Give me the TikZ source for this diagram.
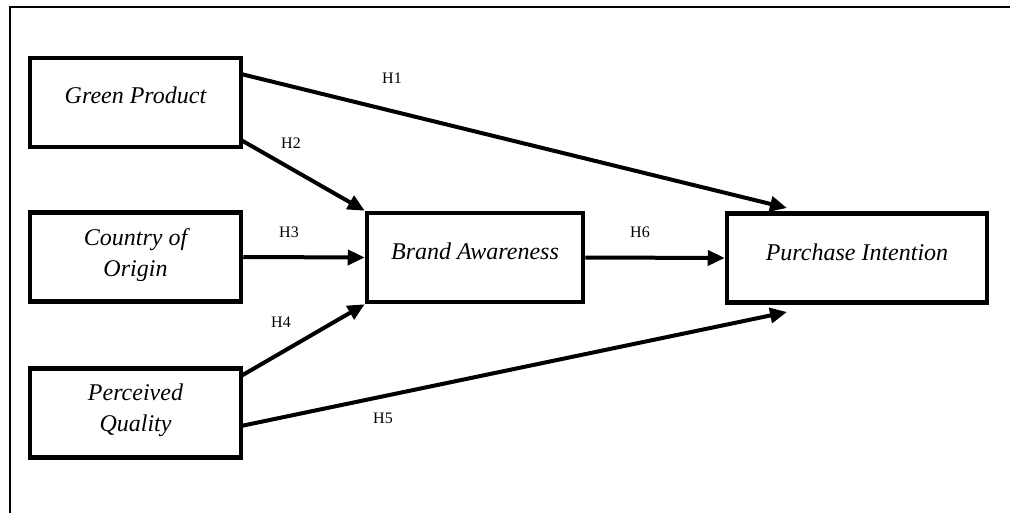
\documentclass[tikz,border=0pt]{standalone}
\usepackage{fontspec}
\setmainfont{Liberation Serif}
\usetikzlibrary{arrows.meta}
\begin{document}
\begin{tikzpicture}[x=1pt,y=-1pt,
  box/.style={draw,line width=4.5pt,minimum width=#1,minimum height=89pt,inner sep=0pt},
  box/.default=211pt,
  txt/.style={font=\fontsize{24}{31}\selectfont\itshape,align=center},
  hyp/.style={font=\fontsize{16}{18}\selectfont},
  conn/.style={line width=4pt,-{Triangle[length=17pt,width=15pt]}},
  frame/.style={line width=1.5pt}]
\useasboundingbox (0,0) rectangle (1010,513);
\draw[frame] (10,513) -- (10,7) -- (1010,7);
% boxes
\node[box] (gp) at (135.5,102.5) {};
\node[box] (co) at (135.5,257) {};
\node[box] (pq) at (135.5,413) {};
\node[box=216pt] (ba) at (475,257.5) {};
\node[box=260pt] (pi) at (857,258) {};
% texts
\node[txt] (gpt) at (135.5,95) {Green Product};
\node[txt] (cot) at (135.5,255) {Country of\\Origin};
\node[txt] (pqt) at (135.5,410) {Perceived\\Quality};
\node[txt] (bat) at (475,251) {Brand Awareness};
\node[txt] (pit) at (857,252) {Purchase Intention};
% free ends
\coordinate (h1s) at (241,74);
\coordinate (h1e) at (787,208);
\coordinate (h2s) at (241,140);
\coordinate (h4s) at (241,376);
\coordinate (h5s) at (241,426);
\coordinate (h5e) at (787,312);
% connectors
\draw[conn] (h1s) -- (h1e);
\draw[conn] (h2s) -- (ba.north west);
\draw[conn] (co.east) -- (ba.west);
\draw[conn] (h4s) -- (ba.south west);
\draw[conn] (h5s) -- (h5e);
\draw[conn] (ba.east) -- (pi.west);
% labels
\node[hyp] (l1) at (392,78) {H1};
\node[hyp] (l2) at (291,143) {H2};
\node[hyp] (l3) at (289,232) {H3};
\node[hyp] (l4) at (281,322) {H4};
\node[hyp] (l5) at (383,418) {H5};
\node[hyp] (l6) at (640,232) {H6};
\end{tikzpicture}
\end{document}
